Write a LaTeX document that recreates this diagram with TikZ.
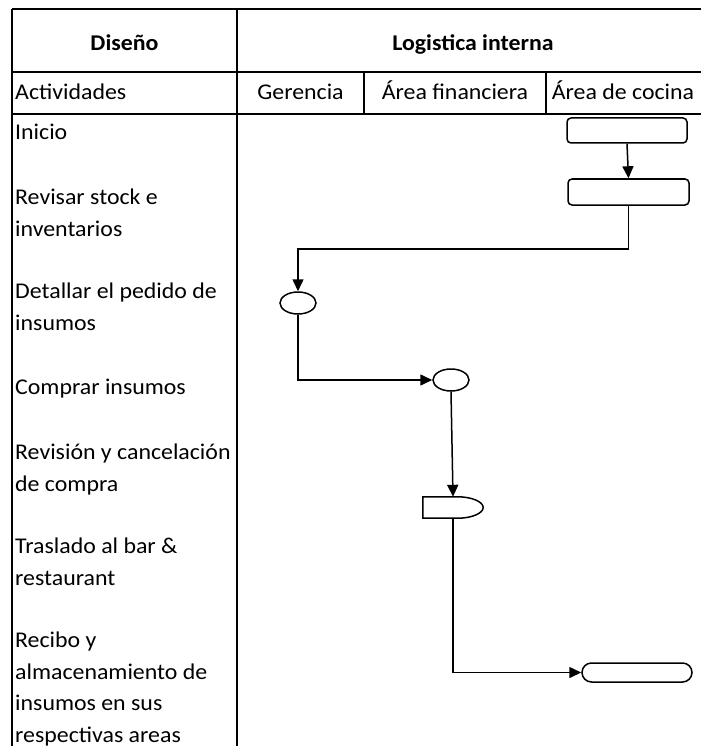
\documentclass[tikz,border=0pt]{standalone}
\usepackage{fontspec}
\setmainfont{Carlito}[FakeStretch=1.06]
\usetikzlibrary{arrows.meta,shapes.geometric}
\begin{document}
\begin{tikzpicture}[x=1pt,y=-1pt,
  grid/.style={line width=1.8pt},
  lbl/.style={font=\fontsize{22.5}{31.8}\selectfont, inner sep=0pt},
  hdr/.style={font=\fontsize{22.5}{31.8}\selectfont\bfseries, inner sep=0pt, anchor=base},
  act/.style={lbl, align=left, anchor=base west},
  shapeline/.style={draw, line width=1.5pt},
  procbox/.style={shapeline, rounded corners=4pt, minimum width=120pt, minimum height=25pt, inner sep=0pt},
  oval/.style={shapeline, ellipse, minimum width=36pt, minimum height=22pt, inner sep=0pt},
  termbox/.style={shapeline, rounded corners=9.5pt, minimum width=110pt, minimum height=19pt, inner sep=0pt},
  flow/.style={line width=1.5pt, -{Triangle[length=12pt,width=11pt]}}]

\useasboundingbox (0,0) rectangle (701,746);
\clip (0,0) rectangle (701,746);

% table frame
\draw[grid] (12,9) -- (701,9);
\draw[grid] (12,72) -- (701,72);
\draw[grid] (12,114) -- (701,114);
\draw[grid] (12,9) -- (12,746);
\draw[grid] (237,9) -- (237,746);
\draw[grid] (364,72) -- (364,114);
\draw[grid] (546,72) -- (546,114);

% headings
\node[hdr] (hDis) at (124.5,51) {Diseño};
\node[hdr] (hLog) at (473,51) {Logistica interna};
\node[lbl, anchor=base west] (hAct) at (15,100) {Actividades};
\node[lbl, anchor=base] (hGer) at (300.5,100) {Gerencia};
\node[lbl, anchor=base] (hFin) at (455,100) {Área financiera};
\node[lbl, anchor=base] (hCoc) at (623,100) {Área de cocina};

% activities (anchored at the baseline of the last line)
\node[act] (a1) at (15,140) {Inicio};
\node[act] (a2) at (15,236) {Revisar stock e\\inventarios};
\node[act] (a3) at (15,330) {Detallar el pedido de\\insumos};
\node[act] (a4) at (15,394) {Comprar insumos};
\node[act] (a5) at (15,491) {Revisión y cancelación\\de compra};
\node[act] (a6) at (15,585) {Traslado al bar \&\\restaurant};
\node[act, font=\fontsize{22.5}{31.5}\selectfont] (a7) at (15,742) {Recibo y\\almacenamiento de\\insumos en sus\\respectivas areas};

% flow symbols
\node[procbox] (r1) at (627,130.5) {};
\node[procbox, minimum width=121pt, minimum height=26pt] (r2) at (628.5,192) {};
\node[oval] (e1) at (298,303) {};
\node[oval] (e2) at (451,380) {};
\node[minimum width=60pt, minimum height=21pt, inner sep=0pt] (d1) at (453,507.5) {};
\draw[shapeline] (d1.north west) -- ([xshift=35pt]d1.north west)
  .. controls +(13.8,0) and +(0,-5.8) .. (d1.east)
  .. controls +(0,5.8) and +(13.8,0) .. ([xshift=35pt]d1.south west)
  -- (d1.south west) -- cycle;
\node[termbox] (t1) at (637,672.5) {};

% connectors
\draw[flow] (r1.south) -- (r2.north);
\draw[flow] (r2.south) -- ++(0,43) -| (e1.north);
\draw[flow] (e1.south) |- (e2.west);
\draw[flow] (e2.south) -- (d1.north);
\draw[flow] (d1.south) |- (t1.west);
\end{tikzpicture}
\end{document}
